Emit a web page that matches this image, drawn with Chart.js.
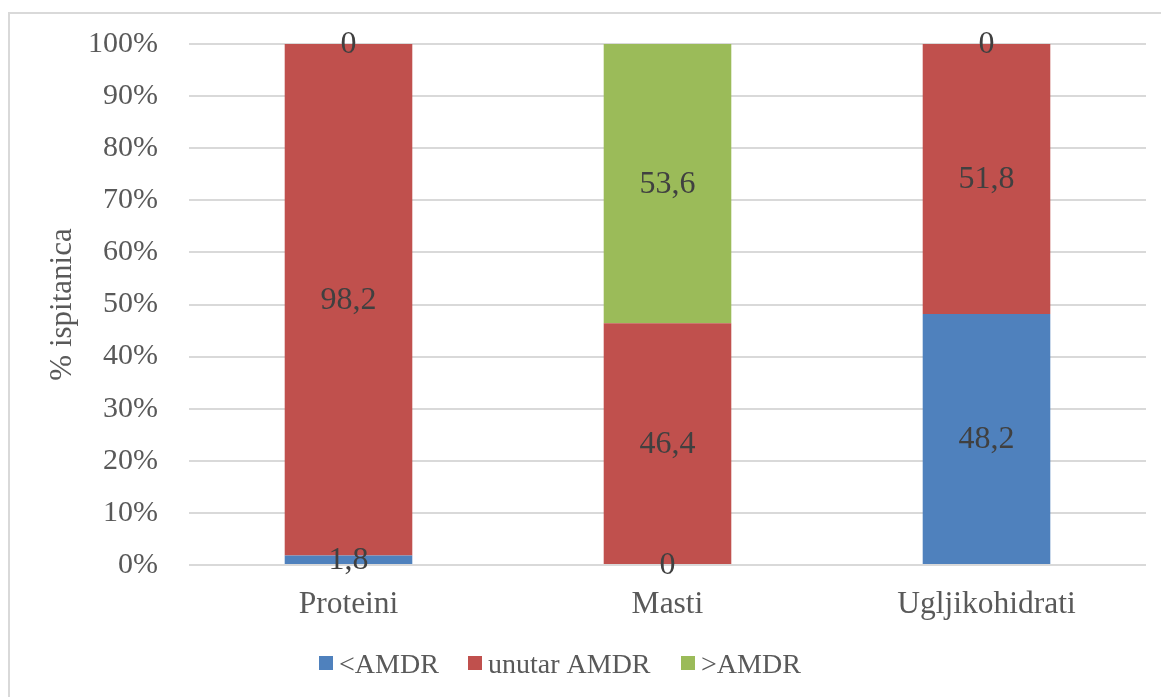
<!DOCTYPE html>
<html>
<head>
<meta charset="utf-8">
<script src="https://cdn.jsdelivr.net/npm/chart.js@4/dist/chart.umd.min.js"></script>
<style>
  html, body { margin: 0; padding: 0; background: #ffffff; }
  #wrap { width: 1161px; height: 697px; position: relative; }
</style>
</head>
<body>
<div id="wrap"><canvas id="c" width="1161" height="697"></canvas></div>
<script>
const categories = ['Proteini', 'Masti', 'Ugljikohidrati'];
const seriesNames = ['<AMDR', 'unutar AMDR', '>AMDR'];
const belowAMDR = [1.8, 0, 48.2];
const withinAMDR = [98.2, 46.4, 51.8];
const aboveAMDR = [0, 53.6, 0];
const yTicks = [0, 10, 20, 30, 40, 50, 60, 70, 80, 90, 100];
const colors = ['#4F81BD', '#C0504D', '#9BBB59'];

const SERIF = '"Liberation Serif", "Times New Roman", serif';

const borderPlugin = {
  id: 'outerBorder',
  beforeDraw(chart) {
    const ctx = chart.ctx;
    ctx.save();
    ctx.fillStyle = '#ffffff';
    ctx.fillRect(0, 0, chart.width, chart.height);
    ctx.strokeStyle = '#D9D9D9';
    ctx.lineWidth = 2;
    ctx.strokeRect(9, 13, 1300, 900);
    ctx.restore();
  }
};

const labelPlugin = {
  id: 'segLabels',
  afterDatasetsDraw(chart) {
    const ctx = chart.ctx;
    ctx.save();
    ctx.font = '32px ' + SERIF;
    ctx.fillStyle = '#404040';
    ctx.textAlign = 'center';
    ctx.textBaseline = 'middle';
    chart.data.datasets.forEach((ds, di) => {
      const meta = chart.getDatasetMeta(di);
      meta.data.forEach((el, i) => {
        const v = ds.data[i];
        const txt = String(v).replace('.', ',');
        const cy = (el.y + el.base) / 2;
        ctx.fillText(txt, el.x, cy + 1);
      });
    });
    ctx.restore();
  }
};

const legendPlugin = {
  id: 'customLegend',
  afterDraw(chart) {
    const ctx = chart.ctx;
    ctx.save();
    ctx.font = '28px ' + SERIF;
    ctx.textBaseline = 'alphabetic';
    ctx.textAlign = 'left';
    const boxX = [319, 468, 681];
    chart.data.datasets.forEach((ds, di) => {
      ctx.fillStyle = ds.backgroundColor;
      ctx.fillRect(boxX[di], 656, 14, 14);
      ctx.fillStyle = '#595959';
      ctx.fillText(ds.label, boxX[di] + 20, 673);
    });
    ctx.restore();
  }
};

new Chart(document.getElementById('c'), {
  type: 'bar',
  data: {
    labels: categories,
    datasets: [
      { label: seriesNames[0], data: belowAMDR, backgroundColor: colors[0] },
      { label: seriesNames[1], data: withinAMDR, backgroundColor: colors[1] },
      { label: seriesNames[2], data: aboveAMDR, backgroundColor: colors[2] }
    ]
  },
  options: {
    responsive: false,
    animation: false,
    devicePixelRatio: 1,
    layout: { padding: { left: 0, top: 44, right: 15, bottom: 0 } },
    datasets: { bar: { categoryPercentage: 1.0, barPercentage: 0.4 } },
    plugins: {
      legend: { display: false },
      tooltip: { enabled: false }
    },
    scales: {
      x: {
        stacked: true,
        grid: { display: false, drawTicks: false },
        border: { display: false },
        ticks: { color: '#595959', font: { family: SERIF, size: 31.5 }, padding: 21 },
        afterFit(scale) { scale.height = 132; scale.paddingLeft = 0; scale.paddingRight = 0; }
      },
      y: {
        stacked: true,
        min: 0,
        max: 100,
        afterBuildTicks(scale) { scale.ticks = yTicks.map(v => ({ value: v })); },
        grid: { color: '#D9D9D9', lineWidth: 2, drawTicks: false },
        border: { display: false },
        ticks: {
          color: '#595959',
          font: { family: SERIF, size: 30 },
          padding: 31,
          callback: v => v + '%'
        },
        title: {
          display: true,
          text: '% ispitanica',
          color: '#595959',
          font: { family: SERIF, size: 31 },
          padding: { top: 44, bottom: 0 }
        },
        afterFit(scale) { scale.width = 189; scale.paddingTop = 0; scale.paddingBottom = 0; }
      }
    }
  },
  plugins: [borderPlugin, labelPlugin, legendPlugin]
});
</script>
</body>
</html>
